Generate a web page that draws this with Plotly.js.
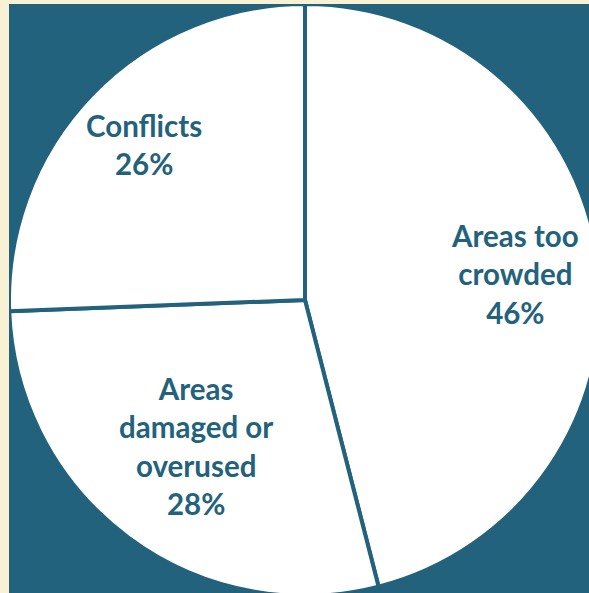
<!DOCTYPE html>
<html>
<head>
<meta charset="utf-8">
<script src="https://cdn.plot.ly/plotly-3.0.1.min.js"></script>
<style>
  html, body { margin: 0; padding: 0; width: 589px; height: 593px; overflow: hidden; background: #f8f1d3; }
  #bg { position: absolute; left: 9px; top: 4px; width: 580px; height: 589px; background: #23627d; overflow: hidden; }
  #chart { position: absolute; left: 0px; top: 0px; width: 592px; height: 592px; }
</style>
</head>
<body>
<div id="bg"><div id="chart"></div></div>
<script>
const categories = ["Areas too crowded", "Areas damaged or overused", "Conflicts"];
const textLabels = ["Areas too<br>crowded", "Areas<br>damaged or<br>overused", "Conflicts"];
const values = [46, 28.4, 25.6];

const teal = "#23627d";
const size = 592;
// label distance from centre, as a fraction of the radius (style only)
const labelRadius = [0.714, 0.615, 0.756];

const total = values.reduce((a, b) => a + b, 0);
let cum = 0;
const annotations = values.map((v, i) => {
  const start = cum / total * 2 * Math.PI;
  cum += v;
  const end = cum / total * 2 * Math.PI;
  const mid = (start + end) / 2;
  const f = labelRadius[i] * 0.5;
  return {
    xref: "paper", yref: "paper",
    x: 0.5 + f * Math.sin(mid),
    y: 0.5 + f * Math.cos(mid),
    xanchor: "center", yanchor: "middle",
    showarrow: false,
    align: "center",
    text: textLabels[i] + "<br>" + Math.round(v / total * 100) + "%",
    font: { family: "Lato, 'Open Sans', sans-serif", size: 29.5, color: teal, weight: "bold" }
  };
});

Plotly.newPlot("chart", [{
  type: "pie",
  labels: categories,
  values: values,
  sort: false,
  direction: "clockwise",
  rotation: 0,
  marker: { colors: ["#ffffff", "#ffffff", "#ffffff"], line: { color: teal, width: 4 } },
  textinfo: "none",
  hoverinfo: "none",
  showlegend: false,
  domain: { x: [0, 1], y: [0, 1] }
}], {
  width: size,
  height: size,
  margin: { l: 0, r: 0, t: 0, b: 0, pad: 0 },
  paper_bgcolor: teal,
  plot_bgcolor: teal,
  showlegend: false,
  annotations: annotations
}, { displayModeBar: false, staticPlot: true });
</script>
</body>
</html>
